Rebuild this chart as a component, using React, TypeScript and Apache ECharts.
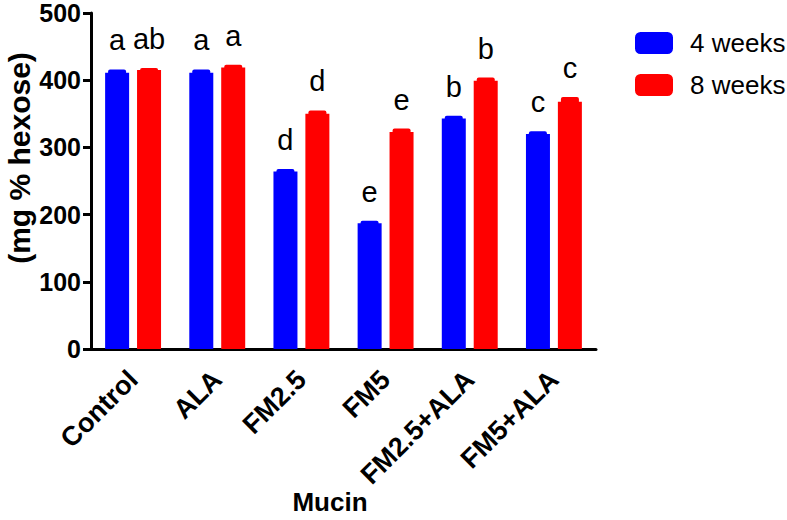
import React, { useEffect, useRef } from "react";
import * as echarts from "echarts";

const categories = ["Control", "ALA", "FM2.5", "FM5", "FM2.5+ALA", "FM5+ALA"];
const seriesNames = ["4 weeks", "8 weeks"];
const weeks4 = [411, 411, 264, 187, 343, 320];
const weeks4Err = [5, 5, 4, 4, 4, 4];
const weeks8 = [415, 419, 350, 323, 399, 368];
const weeks8Err = [3, 4, 5, 5, 5, 7];
const letters4 = ["a", "a", "d", "e", "b", "c"];
const letters8 = ["ab", "a", "d", "e", "b", "c"];
const yTicks = [0, 100, 200, 300, 400, 500];

const FONT = "'Liberation Sans', Arial, Helvetica, sans-serif";
const BLUE = "#0000ff";
const RED = "#ff0000";

function capSeries(name: string, values: number[], errs: number[], letters: string[], color: string, offset: number) {
  return {
    type: "custom",
    name: name + " err",
    silent: true,
    z: 3,
    data: values.map((v, i) => [i, v, errs[i]]),
    renderItem: (params: any, api: any) => {
      const i = api.value(0);
      const mean = api.value(1);
      const err = api.value(2);
      const top = api.coord([i, mean + err]);
      const base = api.coord([i, mean]);
      const x = top[0] + offset;
      return {
        type: "group",
        children: [
          {
            type: "rect",
            shape: { x: x - 9, y: top[1], width: 18, height: base[1] - top[1] + 1, r: [2, 2, 0, 0] },
            style: { fill: color },
          },
          {
            type: "text",
            x: x,
            y: top[1] - 29,
            style: {
              text: letters[params.dataIndex],
              font: "29px " + FONT,
              fill: "#000",
              align: "center",
              verticalAlign: "middle",
            },
          },
        ],
      };
    },
  };
}

export default function App() {
  const ref = useRef<HTMLDivElement>(null);
  useEffect(() => {
    document.body.style.margin = "0";
    if (!ref.current) return;
    const chart = echarts.init(ref.current, undefined, { renderer: "svg" });
    chart.setOption({
      animation: false,
      backgroundColor: "#ffffff",
      grid: { left: 91, right: 191, top: 13, bottom: 171, containLabel: false, outerBoundsMode: "none" },
      legend: {
        orient: "vertical",
        left: 630,
        top: 25,
        itemWidth: 38,
        itemHeight: 22,
        itemGap: 16,
        icon: "roundRect",
        data: seriesNames,
        textStyle: { fontFamily: FONT, fontSize: 26, color: "#000", padding: [0, 0, 0, 12] },
      },
      xAxis: {
        type: "category",
        data: categories,
        boundaryGap: true,
        axisLine: { lineStyle: { color: "#000", width: 3 } },
        axisTick: { alignWithLabel: true, length: 8, lineStyle: { color: "#000", width: 3 } },
        axisLabel: {
          rotate: 45,
          margin: 26,
          fontFamily: FONT,
          fontSize: 27,
          fontWeight: "bold",
          color: "#000",
        },
      },
      yAxis: {
        type: "value",
        min: 0,
        max: 500,
        interval: 100,
        splitLine: { show: false },
        axisLine: { show: true, lineStyle: { color: "#000", width: 3 } },
        axisTick: { show: true, length: 8, lineStyle: { color: "#000", width: 3 } },
        axisLabel: {
          margin: 10,
          fontFamily: FONT,
          fontSize: 25,
          fontWeight: "bold",
          color: "#000",
          formatter: (v: number) => (yTicks.includes(v) ? String(v) : ""),
        },
      },
      graphic: [
        {
          type: "text",
          x: 19,
          y: 158,
          rotation: Math.PI / 2,
          style: {
            text: "(mg % hexose)",
            font: "bold 30px " + FONT,
            fill: "#000",
            align: "center",
            verticalAlign: "middle",
          },
        },
        {
          type: "text",
          x: 330,
          y: 502,
          style: {
            text: "Mucin",
            font: "bold 26px " + FONT,
            fill: "#000",
            align: "center",
            verticalAlign: "middle",
          },
        },
      ],
      series: [
        {
          type: "bar",
          name: seriesNames[0],
          data: weeks4,
          barWidth: 24,
          barGap: "33%",
          itemStyle: { color: BLUE },
        },
        {
          type: "bar",
          name: seriesNames[1],
          data: weeks8,
          barWidth: 24,
          itemStyle: { color: RED },
        },
        capSeries(seriesNames[0], weeks4, weeks4Err, letters4, BLUE, -16),
        capSeries(seriesNames[1], weeks8, weeks8Err, letters8, RED, 16),
      ],
    });
    return () => chart.dispose();
  }, []);
  return <div ref={ref} style={{ width: 787, height: 520 }} />;
}
